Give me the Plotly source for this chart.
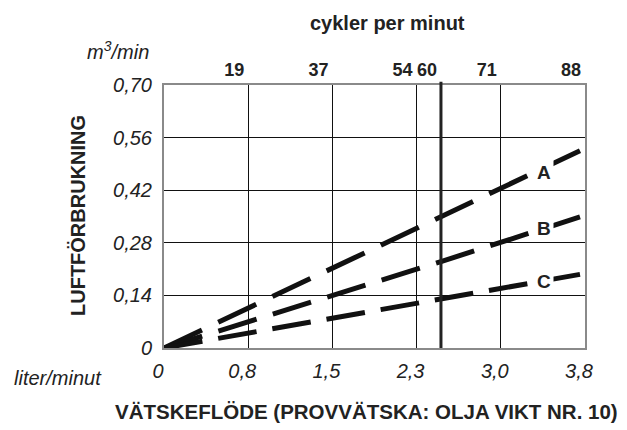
import plotly.graph_objects as go

# ---- data ----
flow_x = [0, 2.49, 3.74]                 # liter/minut
serie_A = [0, 0.349, 0.525]              # m3/min
serie_B = [0, 0.230, 0.349]
serie_C = [0, 0.130, 0.196]
series_names = ["A", "B", "C"]

x_tickvals = [0, 0.757, 1.514, 2.271, 3.028, 3.785]
x_ticktext = ["0", "0,8", "1,5", "2,3", "3,0", "3,8"]
top_tickvals = [0.757, 1.514, 2.271, 2.49, 3.028, 3.785]
top_ticktext = ["19", "37", "54", "60", "71", "88"]
y_tickvals = [0, 0.14, 0.28, 0.42, 0.56, 0.70]
y_ticktext = ["0", "0,14", "0,28", "0,42", "0,56", "0,70"]
marker_60 = 2.49                          # 60 cycles/min

# ---- styles ----
FONT = "Liberation Sans, Arial, Helvetica, sans-serif"
INK = "#222222"
dash_styles = {"A": "42px,18px", "B": "40px,17px", "C": "39px,16px"}
label_pos = {"A": (3.42, 0.468), "B": (3.42, 0.319), "C": (3.42, 0.176)}

# page body has an 8px margin; compensate so the plot lands where the reference has it
OFF = 8
PL, PT, PW, PH = 164 - OFF, 85 - OFF, 421, 263
W, H = 627, 430

fig = go.Figure()
for name, ys in zip(series_names, [serie_A, serie_B, serie_C]):
    fig.add_trace(go.Scatter(x=flow_x, y=ys, mode="lines", name=name,
                             line=dict(color="#111111", width=5, dash=dash_styles[name]),
                             hoverinfo="skip", showlegend=False))

for name in series_names:
    lx, ly = label_pos[name]
    fig.add_annotation(x=lx, y=ly, xref="x", yref="y", text=f"<b>{name}</b>",
                       showarrow=False, font=dict(family=FONT, size=19, color=INK),
                       bgcolor="white", borderpad=2)

# thick vertical line at 60 cycles/min
fig.add_shape(type="line", x0=marker_60, x1=marker_60, xref="x", yref="paper",
              y0=0, y1=1.012, line=dict(color="#222222", width=3))

fig.update_layout(
    width=W, height=H,
    margin=dict(l=PL, r=W - PL - PW, t=PT, b=H - PT - PH, autoexpand=False),
    paper_bgcolor="white", plot_bgcolor="white",
    font=dict(family=FONT, color=INK),
    xaxis=dict(range=[0, 3.785], tickvals=x_tickvals, ticktext=x_ticktext,
               showgrid=True, gridcolor="#111111", gridwidth=1, zeroline=False,
               showline=True, linecolor="#8a8a8a", linewidth=2, mirror=True,
               ticks="", ticklabelstandoff=4, ticklabelshift=-6,
               tickfont=dict(family=FONT, size=20, style="italic", color=INK)),
    xaxis2=dict(range=[0, 3.785], overlaying="x", side="top", anchor="y",
                tickvals=top_tickvals, ticktext=top_ticktext, showgrid=False,
                zeroline=False, showline=False, ticks="", ticklabelstandoff=4,
                ticklabelshift=-14,
                tickfont=dict(family=FONT, size=18, weight="bold", color=INK)),
    yaxis=dict(range=[0, 0.70], tickvals=y_tickvals, ticktext=y_ticktext,
               showgrid=True, gridcolor="#111111", gridwidth=1, zeroline=False,
               showline=True, linecolor="#8a8a8a", linewidth=2, mirror=True,
               ticks="", ticklabelstandoff=6,
               tickfont=dict(family=FONT, size=20, style="italic", color=INK)),
)

# empty trace bound to the top axis so it is rendered
fig.add_trace(go.Scatter(x=[None], y=[None], xaxis="x2", yaxis="y",
                         showlegend=False, hoverinfo="skip"))


def px(xp, yp):
    """reference page pixel -> paper fraction"""
    return (xp - OFF - PL) / PW, 1 - (yp - OFF - PT) / PH


free_texts = [
    ("<b>cykler per minut</b>", 387, 23, "center", 0, dict(size=20)),
    ("m<sup>3</sup>/min", 151, 50, "right", 0, dict(size=20, style="italic")),
    ("liter/minut", 12, 378, "left", 0, dict(size=20, style="italic")),
    ("<b>LUFTFÖRBRUKNING</b>", 78, 216, "center", -90, dict(size=20)),
    ("<b>VÄTSKEFLÖDE (PROVVÄTSKA: OLJA VIKT NR. 10)</b>", 366, 411, "center", 0, dict(size=20.5)),
]
for text, xp, yp, anc, ang, f in free_texts:
    ax, ay = px(xp, yp)
    fig.add_annotation(text=text, x=ax, y=ay, xref="paper", yref="paper",
                       xanchor=anc, yanchor="middle", textangle=ang, showarrow=False,
                       font=dict(family=FONT, color=INK, **f))

fig.write_html("out.html")
